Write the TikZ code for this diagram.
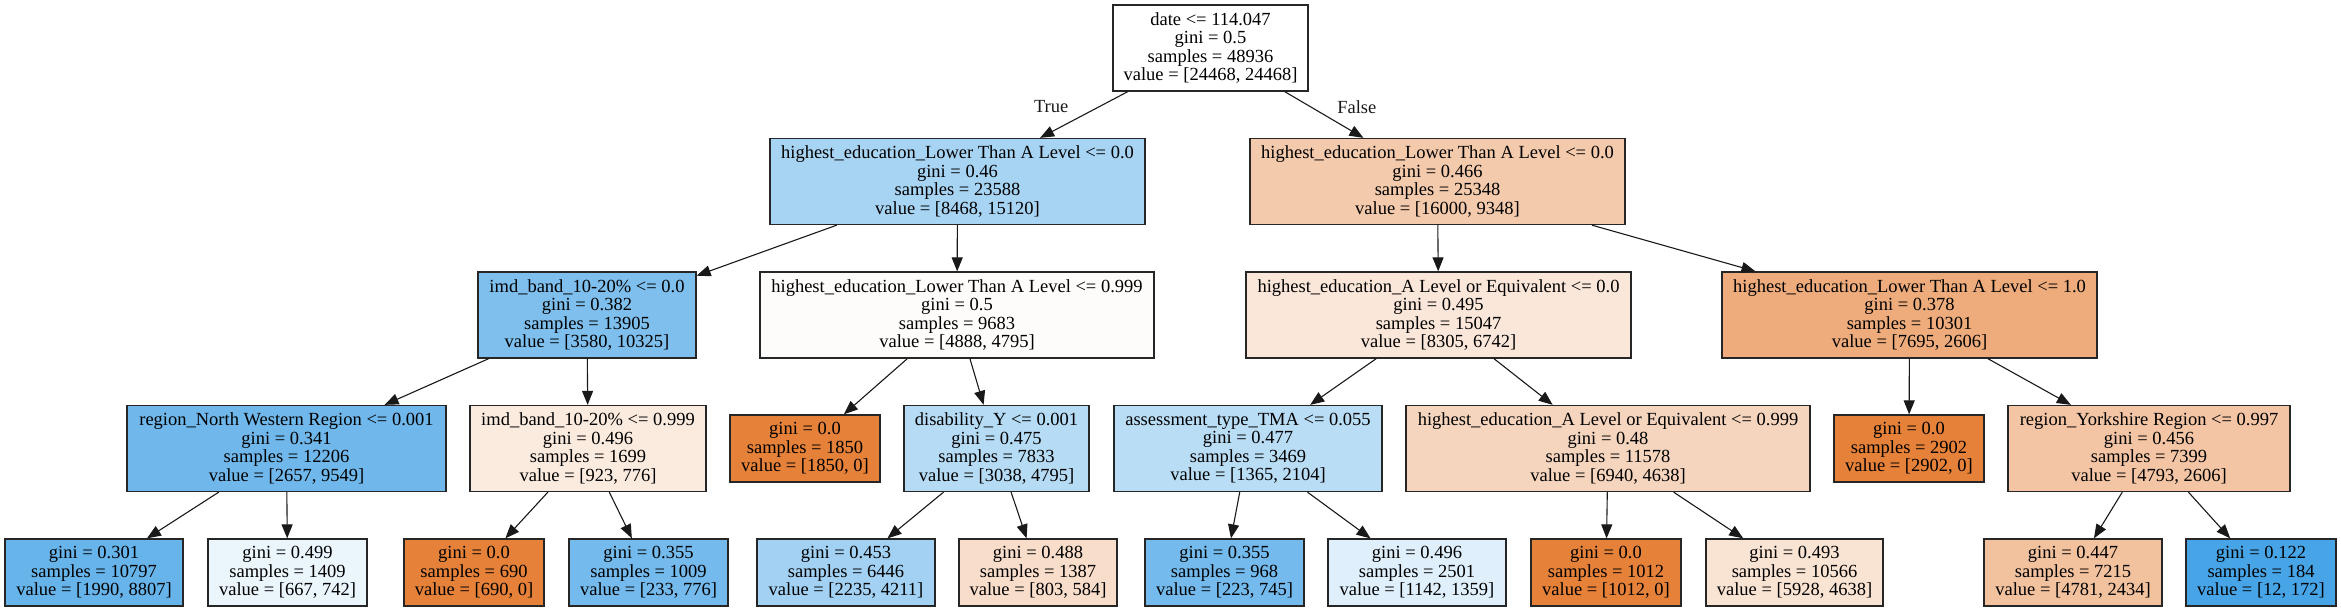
\documentclass[tikz,border=0pt]{standalone}
\usepackage{fontspec}
\setmainfont{Liberation Serif}
\usepackage{tikz}
\usetikzlibrary{arrows.meta}
\definecolor{orangeC}{HTML}{E58139}
\definecolor{blueC}{HTML}{399DE5}

\begin{document}
\begin{tikzpicture}[x=1pt, y=-1pt, >={Triangle[length=14pt, width=11pt]},
    font=\fontsize{18.5}{18.5}\selectfont,
    splitbox/.style={draw=black!85, line width=1.3pt, align=center, inner sep=0pt, minimum height=86pt},
    leafbox/.style={splitbox, minimum height=67pt},
    link/.style={->, line width=1.1pt, black!90}]
    \useasboundingbox (0,0) rectangle (2341,611);

    % Root
    \node[splitbox, fill=white, minimum width=195pt] (n0) at (1210.5,48) {date <= 114.047\\gini = 0.5\\samples = 48936\\value = [24468, 24468]};

    % Level 1
    \node[splitbox, fill=blueC!44, minimum width=375pt] (n1) at (957.5,181.5) {highest\_education\_Lower Than A Level <= 0.0\\gini = 0.46\\samples = 23588\\value = [8468, 15120]};
    \node[splitbox, fill=orangeC!42, minimum width=375pt] (n14) at (1437.5,181.5) {highest\_education\_Lower Than A Level <= 0.0\\gini = 0.466\\samples = 25348\\value = [16000, 9348]};

    % Level 2
    \node[splitbox, fill=blueC!65, minimum width=218pt] (n2) at (587,315) {imd\_band\_10-20\% <= 0.0\\gini = 0.382\\samples = 13905\\value = [3580, 10325]};
    \node[splitbox, fill=orangeC!2, minimum width=394pt] (n9) at (957,315) {highest\_education\_Lower Than A Level <= 0.999\\gini = 0.5\\samples = 9683\\value = [4888, 4795]};
    \node[splitbox, fill=orangeC!19, minimum width=385pt] (n15) at (1438.5,315) {highest\_education\_A Level or Equivalent <= 0.0\\gini = 0.495\\samples = 15047\\value = [8305, 6742]};
    \node[splitbox, fill=orangeC!66, minimum width=375pt] (n22) at (1909.5,315) {highest\_education\_Lower Than A Level <= 1.0\\gini = 0.378\\samples = 10301\\value = [7695, 2606]};

    % Level 3
    \node[splitbox, fill=blueC!72, minimum width=319pt] (n3) at (286.5,448.5) {region\_North Western Region <= 0.001\\gini = 0.341\\samples = 12206\\value = [2657, 9549]};
    \node[splitbox, fill=orangeC!16, minimum width=236pt] (n6) at (588,448.5) {imd\_band\_10-20\% <= 0.999\\gini = 0.496\\samples = 1699\\value = [923, 776]};
    \node[leafbox, fill=orangeC, minimum width=150pt] (n10) at (805,448.5) {gini = 0.0\\samples = 1850\\value = [1850, 0]};
    \node[splitbox, fill=blueC!37, minimum width=185pt] (n11) at (996.5,448.5) {disability\_Y <= 0.001\\gini = 0.475\\samples = 7833\\value = [3038, 4795]};
    \node[splitbox, fill=blueC!35, minimum width=268pt] (n16) at (1248,448.5) {assessment\_type\_TMA <= 0.055\\gini = 0.477\\samples = 3469\\value = [1365, 2104]};
    \node[splitbox, fill=orangeC!33, minimum width=404pt] (n19) at (1608,448.5) {highest\_education\_A Level or Equivalent <= 0.999\\gini = 0.48\\samples = 11578\\value = [6940, 4638]};
    \node[leafbox, fill=orangeC, minimum width=150pt] (n23) at (1909,448.5) {gini = 0.0\\samples = 2902\\value = [2902, 0]};
    \node[splitbox, fill=orangeC!46, minimum width=282pt] (n24) at (2149,448.5) {region\_Yorkshire Region <= 0.997\\gini = 0.456\\samples = 7399\\value = [4793, 2606]};

    % Leaves
    \node[leafbox, fill=blueC!77, minimum width=178pt] (n4) at (94,572.5) {gini = 0.301\\samples = 10797\\value = [1990, 8807]};
    \node[leafbox, fill=blueC!10, minimum width=159pt] (n5) at (287.5,572.5) {gini = 0.499\\samples = 1409\\value = [667, 742]};
    \node[leafbox, fill=orangeC, minimum width=140pt] (n7) at (474,572.5) {gini = 0.0\\samples = 690\\value = [690, 0]};
    \node[leafbox, fill=blueC!70, minimum width=159pt] (n8) at (648.5,572.5) {gini = 0.355\\samples = 1009\\value = [233, 776]};
    \node[leafbox, fill=blueC!47, minimum width=178pt] (n12) at (846,572.5) {gini = 0.453\\samples = 6446\\value = [2235, 4211]};
    \node[leafbox, fill=orangeC!27, minimum width=158pt] (n13) at (1038,572.5) {gini = 0.488\\samples = 1387\\value = [803, 584]};
    \node[leafbox, fill=blueC!70, minimum width=159pt] (n17) at (1224.5,572.5) {gini = 0.355\\samples = 968\\value = [223, 745]};
    \node[leafbox, fill=blueC!16, minimum width=178pt] (n18) at (1417,572.5) {gini = 0.496\\samples = 2501\\value = [1142, 1359]};
    \node[leafbox, fill=orangeC, minimum width=150pt] (n20) at (1606,572.5) {gini = 0.0\\samples = 1012\\value = [1012, 0]};
    \node[leafbox, fill=orangeC!22, minimum width=177pt] (n21) at (1794.5,572.5) {gini = 0.493\\samples = 10566\\value = [5928, 4638]};
    \node[leafbox, fill=orangeC!49, minimum width=178pt] (n25) at (2073,572.5) {gini = 0.447\\samples = 7215\\value = [4781, 2434]};
    \node[leafbox, fill=blueC!93, minimum width=150pt] (n26) at (2261,572.5) {gini = 0.122\\samples = 184\\value = [12, 172]};

    % Edges
    \draw[link] (n0) -- (n1) node[pos=0.33, left=30pt, inner sep=0pt] (lt) {True};
    \draw[link] (n0) -- (n14) node[pos=0.33, right=26pt, inner sep=0pt] (lf) {False};
    \foreach \a/\b in {1/2, 1/9, 2/3, 2/6, 3/4, 3/5, 6/7, 6/8, 9/10, 9/11, 11/12, 11/13,
                       14/15, 14/22, 15/16, 15/19, 16/17, 16/18, 19/20, 19/21, 22/23, 22/24, 24/25, 24/26}
        \draw[link] (n\a) -- (n\b);
\end{tikzpicture}
\end{document}
